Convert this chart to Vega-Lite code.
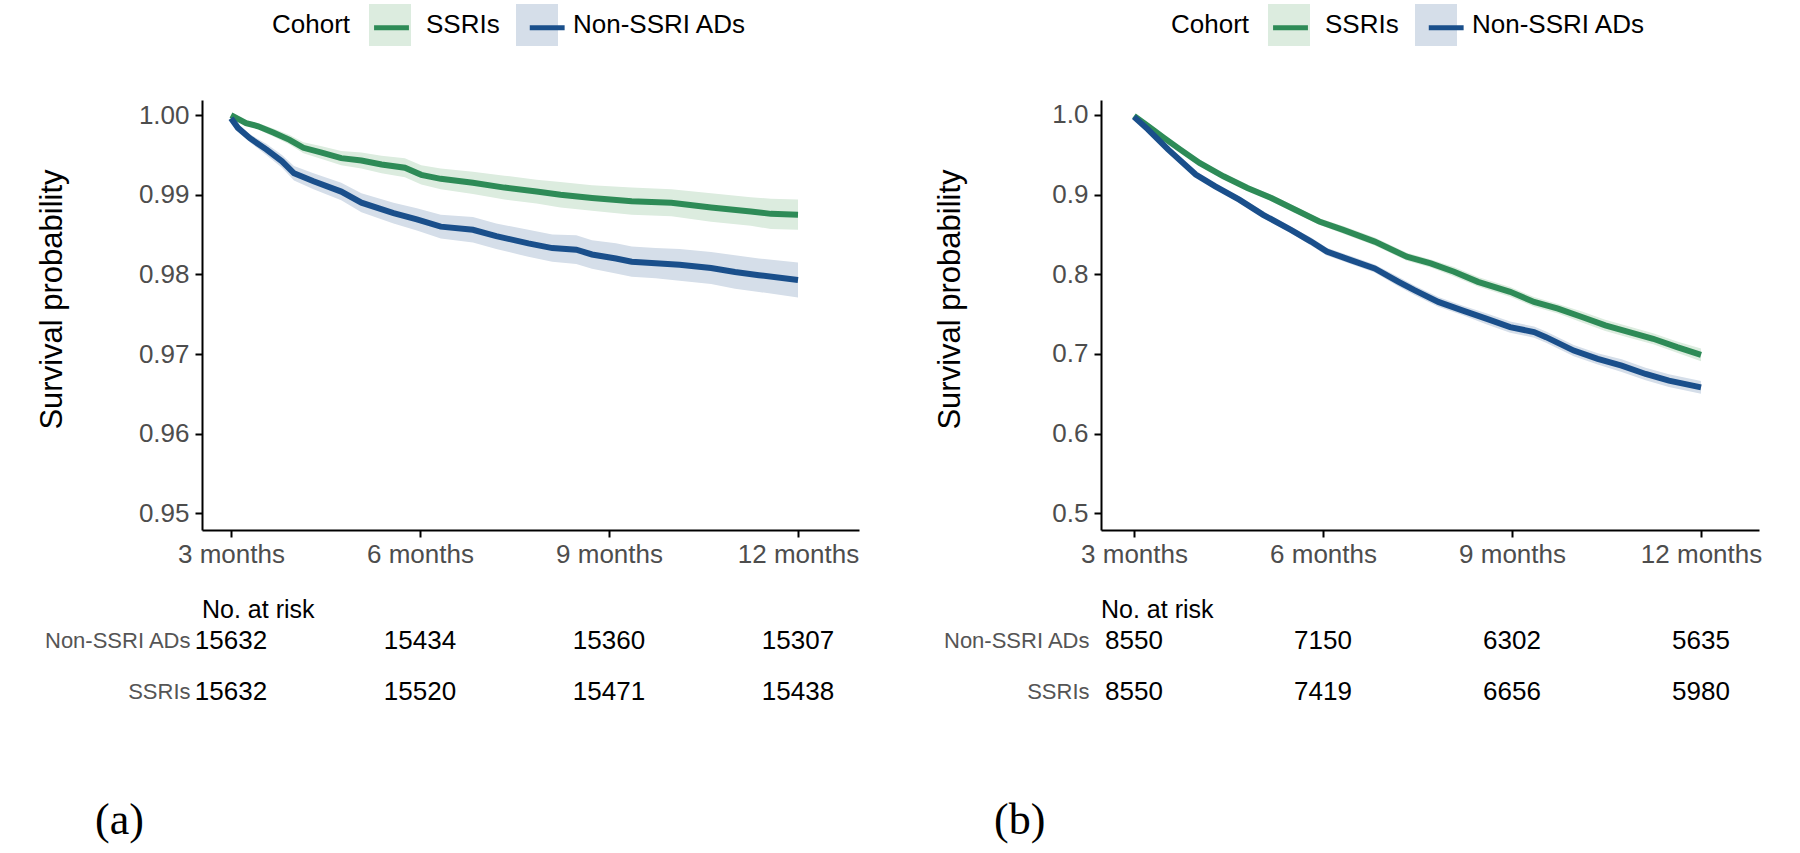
{
  "$schema": "https://vega.github.io/schema/vega-lite/v6.json",
  "background": "white",
  "padding": {"left": 36, "top": 4, "right": 10, "bottom": 2},
  "config": {
    "view": {"stroke": null},
    "font": "Liberation Sans",
    "axis": {"grid": false, "domainColor": "black", "domainWidth": 2, "tickColor": "black", "tickWidth": 2, "tickSize": 7, "labelFont": "Liberation Sans", "labelFontSize": 26, "labelColor": "#4d4d4d", "titleFont": "Liberation Sans", "titleFontWeight": "normal", "titleColor": "black", "titleFontSize": 31},
    "legend": {"orient": "none", "legendY": -96, "direction": "horizontal", "titleOrient": "left", "titleAnchor": "middle", "titleBaseline": "middle", "titleFont": "Liberation Sans", "titleFontSize": 26, "titleFontWeight": "normal", "titleColor": "black", "titlePadding": 18, "labelFont": "Liberation Sans", "labelFontSize": 26, "labelColor": "black", "labelOffset": 15, "labelLimit": 400, "symbolSize": 1764, "padding": 0}
  },
  "datasets": {
    "curves": [
      {"p":"a","c":"SSRIs","m":3.00,"s":1.0000,"lo":1.0000,"hi":1.0000},
      {"p":"a","c":"SSRIs","m":3.24,"s":0.9990,"lo":0.9987,"hi":0.9993},
      {"p":"a","c":"SSRIs","m":3.43,"s":0.9986,"lo":0.9982,"hi":0.9990},
      {"p":"a","c":"SSRIs","m":3.68,"s":0.9978,"lo":0.9973,"hi":0.9983},
      {"p":"a","c":"SSRIs","m":3.93,"s":0.9969,"lo":0.9963,"hi":0.9975},
      {"p":"a","c":"SSRIs","m":4.15,"s":0.9959,"lo":0.9952,"hi":0.9966},
      {"p":"a","c":"SSRIs","m":4.44,"s":0.9953,"lo":0.9945,"hi":0.9961},
      {"p":"a","c":"SSRIs","m":4.75,"s":0.9946,"lo":0.9937,"hi":0.9955},
      {"p":"a","c":"SSRIs","m":5.07,"s":0.9943,"lo":0.9933,"hi":0.9953},
      {"p":"a","c":"SSRIs","m":5.39,"s":0.9938,"lo":0.9927,"hi":0.9949},
      {"p":"a","c":"SSRIs","m":5.76,"s":0.9934,"lo":0.9922,"hi":0.9946},
      {"p":"a","c":"SSRIs","m":6.02,"s":0.9925,"lo":0.9913,"hi":0.9937},
      {"p":"a","c":"SSRIs","m":6.33,"s":0.9920,"lo":0.9907,"hi":0.9933},
      {"p":"a","c":"SSRIs","m":6.84,"s":0.9915,"lo":0.9901,"hi":0.9929},
      {"p":"a","c":"SSRIs","m":7.34,"s":0.9909,"lo":0.9894,"hi":0.9924},
      {"p":"a","c":"SSRIs","m":7.85,"s":0.9904,"lo":0.9889,"hi":0.9919},
      {"p":"a","c":"SSRIs","m":8.23,"s":0.9900,"lo":0.9884,"hi":0.9916},
      {"p":"a","c":"SSRIs","m":8.73,"s":0.9896,"lo":0.9880,"hi":0.9912},
      {"p":"a","c":"SSRIs","m":9.36,"s":0.9892,"lo":0.9875,"hi":0.9909},
      {"p":"a","c":"SSRIs","m":9.99,"s":0.9890,"lo":0.9873,"hi":0.9907},
      {"p":"a","c":"SSRIs","m":10.62,"s":0.9884,"lo":0.9866,"hi":0.9902},
      {"p":"a","c":"SSRIs","m":11.25,"s":0.9879,"lo":0.9861,"hi":0.9897},
      {"p":"a","c":"SSRIs","m":11.57,"s":0.9876,"lo":0.9857,"hi":0.9895},
      {"p":"a","c":"SSRIs","m":12.00,"s":0.9875,"lo":0.9856,"hi":0.9894},
      {"p":"a","c":"Non-SSRI ADs","m":3.00,"s":0.9996,"lo":0.9996,"hi":0.9996},
      {"p":"a","c":"Non-SSRI ADs","m":3.11,"s":0.9984,"lo":0.9981,"hi":0.9987},
      {"p":"a","c":"Non-SSRI ADs","m":3.30,"s":0.9971,"lo":0.9966,"hi":0.9976},
      {"p":"a","c":"Non-SSRI ADs","m":3.56,"s":0.9957,"lo":0.9950,"hi":0.9964},
      {"p":"a","c":"Non-SSRI ADs","m":3.81,"s":0.9942,"lo":0.9934,"hi":0.9950},
      {"p":"a","c":"Non-SSRI ADs","m":4.00,"s":0.9927,"lo":0.9918,"hi":0.9936},
      {"p":"a","c":"Non-SSRI ADs","m":4.31,"s":0.9917,"lo":0.9907,"hi":0.9927},
      {"p":"a","c":"Non-SSRI ADs","m":4.75,"s":0.9904,"lo":0.9893,"hi":0.9915},
      {"p":"a","c":"Non-SSRI ADs","m":5.07,"s":0.9890,"lo":0.9878,"hi":0.9902},
      {"p":"a","c":"Non-SSRI ADs","m":5.58,"s":0.9877,"lo":0.9864,"hi":0.9890},
      {"p":"a","c":"Non-SSRI ADs","m":5.95,"s":0.9869,"lo":0.9855,"hi":0.9883},
      {"p":"a","c":"Non-SSRI ADs","m":6.33,"s":0.9860,"lo":0.9845,"hi":0.9875},
      {"p":"a","c":"Non-SSRI ADs","m":6.84,"s":0.9856,"lo":0.9840,"hi":0.9872},
      {"p":"a","c":"Non-SSRI ADs","m":7.21,"s":0.9848,"lo":0.9832,"hi":0.9864},
      {"p":"a","c":"Non-SSRI ADs","m":7.72,"s":0.9839,"lo":0.9822,"hi":0.9856},
      {"p":"a","c":"Non-SSRI ADs","m":8.10,"s":0.9833,"lo":0.9816,"hi":0.9850},
      {"p":"a","c":"Non-SSRI ADs","m":8.48,"s":0.9831,"lo":0.9813,"hi":0.9849},
      {"p":"a","c":"Non-SSRI ADs","m":8.73,"s":0.9825,"lo":0.9807,"hi":0.9843},
      {"p":"a","c":"Non-SSRI ADs","m":9.11,"s":0.9820,"lo":0.9801,"hi":0.9839},
      {"p":"a","c":"Non-SSRI ADs","m":9.36,"s":0.9816,"lo":0.9797,"hi":0.9835},
      {"p":"a","c":"Non-SSRI ADs","m":9.74,"s":0.9814,"lo":0.9795,"hi":0.9833},
      {"p":"a","c":"Non-SSRI ADs","m":10.12,"s":0.9812,"lo":0.9792,"hi":0.9832},
      {"p":"a","c":"Non-SSRI ADs","m":10.62,"s":0.9808,"lo":0.9788,"hi":0.9828},
      {"p":"a","c":"Non-SSRI ADs","m":11.00,"s":0.9803,"lo":0.9782,"hi":0.9824},
      {"p":"a","c":"Non-SSRI ADs","m":11.38,"s":0.9799,"lo":0.9778,"hi":0.9820},
      {"p":"a","c":"Non-SSRI ADs","m":12.00,"s":0.9793,"lo":0.9771,"hi":0.9815},
      {"p":"b","c":"SSRIs","m":3.00,"s":0.9987,"lo":0.9987,"hi":0.9987},
      {"p":"b","c":"SSRIs","m":3.22,"s":0.9861,"lo":0.9851,"hi":0.9871},
      {"p":"b","c":"SSRIs","m":3.47,"s":0.9714,"lo":0.9694,"hi":0.9734},
      {"p":"b","c":"SSRIs","m":3.73,"s":0.9567,"lo":0.9547,"hi":0.9587},
      {"p":"b","c":"SSRIs","m":4.04,"s":0.9398,"lo":0.9368,"hi":0.9428},
      {"p":"b","c":"SSRIs","m":4.42,"s":0.9230,"lo":0.9200,"hi":0.9260},
      {"p":"b","c":"SSRIs","m":4.80,"s":0.9083,"lo":0.9053,"hi":0.9113},
      {"p":"b","c":"SSRIs","m":5.18,"s":0.8957,"lo":0.8917,"hi":0.8997},
      {"p":"b","c":"SSRIs","m":5.56,"s":0.8809,"lo":0.8769,"hi":0.8849},
      {"p":"b","c":"SSRIs","m":5.94,"s":0.8662,"lo":0.8622,"hi":0.8702},
      {"p":"b","c":"SSRIs","m":6.32,"s":0.8557,"lo":0.8507,"hi":0.8607},
      {"p":"b","c":"SSRIs","m":6.82,"s":0.8410,"lo":0.8360,"hi":0.8460},
      {"p":"b","c":"SSRIs","m":7.33,"s":0.8220,"lo":0.8170,"hi":0.8270},
      {"p":"b","c":"SSRIs","m":7.71,"s":0.8136,"lo":0.8086,"hi":0.8186},
      {"p":"b","c":"SSRIs","m":8.08,"s":0.8031,"lo":0.7971,"hi":0.8091},
      {"p":"b","c":"SSRIs","m":8.46,"s":0.7905,"lo":0.7845,"hi":0.7965},
      {"p":"b","c":"SSRIs","m":8.97,"s":0.7779,"lo":0.7719,"hi":0.7839},
      {"p":"b","c":"SSRIs","m":9.35,"s":0.7653,"lo":0.7593,"hi":0.7713},
      {"p":"b","c":"SSRIs","m":9.73,"s":0.7568,"lo":0.7508,"hi":0.7628},
      {"p":"b","c":"SSRIs","m":10.11,"s":0.7463,"lo":0.7393,"hi":0.7533},
      {"p":"b","c":"SSRIs","m":10.48,"s":0.7358,"lo":0.7288,"hi":0.7428},
      {"p":"b","c":"SSRIs","m":10.86,"s":0.7274,"lo":0.7204,"hi":0.7344},
      {"p":"b","c":"SSRIs","m":11.24,"s":0.7190,"lo":0.7120,"hi":0.7260},
      {"p":"b","c":"SSRIs","m":11.62,"s":0.7085,"lo":0.7015,"hi":0.7155},
      {"p":"b","c":"SSRIs","m":12.00,"s":0.6988,"lo":0.6908,"hi":0.7068},
      {"p":"b","c":"Non-SSRI ADs","m":3.00,"s":0.9975,"lo":0.9975,"hi":0.9975},
      {"p":"b","c":"Non-SSRI ADs","m":3.22,"s":0.9819,"lo":0.9809,"hi":0.9829},
      {"p":"b","c":"Non-SSRI ADs","m":3.54,"s":0.9567,"lo":0.9547,"hi":0.9587},
      {"p":"b","c":"Non-SSRI ADs","m":3.98,"s":0.9251,"lo":0.9221,"hi":0.9281},
      {"p":"b","c":"Non-SSRI ADs","m":4.29,"s":0.9104,"lo":0.9074,"hi":0.9134},
      {"p":"b","c":"Non-SSRI ADs","m":4.67,"s":0.8936,"lo":0.8896,"hi":0.8976},
      {"p":"b","c":"Non-SSRI ADs","m":5.05,"s":0.8746,"lo":0.8706,"hi":0.8786},
      {"p":"b","c":"Non-SSRI ADs","m":5.49,"s":0.8557,"lo":0.8517,"hi":0.8597},
      {"p":"b","c":"Non-SSRI ADs","m":5.81,"s":0.8410,"lo":0.8360,"hi":0.8460},
      {"p":"b","c":"Non-SSRI ADs","m":6.06,"s":0.8284,"lo":0.8234,"hi":0.8334},
      {"p":"b","c":"Non-SSRI ADs","m":6.44,"s":0.8178,"lo":0.8128,"hi":0.8228},
      {"p":"b","c":"Non-SSRI ADs","m":6.82,"s":0.8073,"lo":0.8023,"hi":0.8123},
      {"p":"b","c":"Non-SSRI ADs","m":7.20,"s":0.7905,"lo":0.7845,"hi":0.7965},
      {"p":"b","c":"Non-SSRI ADs","m":7.45,"s":0.7800,"lo":0.7740,"hi":0.7860},
      {"p":"b","c":"Non-SSRI ADs","m":7.83,"s":0.7653,"lo":0.7593,"hi":0.7713},
      {"p":"b","c":"Non-SSRI ADs","m":8.21,"s":0.7547,"lo":0.7487,"hi":0.7607},
      {"p":"b","c":"Non-SSRI ADs","m":8.59,"s":0.7442,"lo":0.7372,"hi":0.7512},
      {"p":"b","c":"Non-SSRI ADs","m":8.97,"s":0.7337,"lo":0.7267,"hi":0.7407},
      {"p":"b","c":"Non-SSRI ADs","m":9.35,"s":0.7274,"lo":0.7204,"hi":0.7344},
      {"p":"b","c":"Non-SSRI ADs","m":9.54,"s":0.7211,"lo":0.7141,"hi":0.7281},
      {"p":"b","c":"Non-SSRI ADs","m":9.98,"s":0.7042,"lo":0.6972,"hi":0.7112},
      {"p":"b","c":"Non-SSRI ADs","m":10.36,"s":0.6937,"lo":0.6867,"hi":0.7007},
      {"p":"b","c":"Non-SSRI ADs","m":10.74,"s":0.6853,"lo":0.6773,"hi":0.6933},
      {"p":"b","c":"Non-SSRI ADs","m":11.12,"s":0.6748,"lo":0.6668,"hi":0.6828},
      {"p":"b","c":"Non-SSRI ADs","m":11.49,"s":0.6664,"lo":0.6584,"hi":0.6744},
      {"p":"b","c":"Non-SSRI ADs","m":12.00,"s":0.6580,"lo":0.6500,"hi":0.6660}
    ],
    "risk": [
      {"p":"a","c":"Non-SSRI ADs","m":3,"n":15632},
      {"p":"a","c":"Non-SSRI ADs","m":6,"n":15434},
      {"p":"a","c":"Non-SSRI ADs","m":9,"n":15360},
      {"p":"a","c":"Non-SSRI ADs","m":12,"n":15307},
      {"p":"a","c":"SSRIs","m":3,"n":15632},
      {"p":"a","c":"SSRIs","m":6,"n":15520},
      {"p":"a","c":"SSRIs","m":9,"n":15471},
      {"p":"a","c":"SSRIs","m":12,"n":15438},
      {"p":"b","c":"Non-SSRI ADs","m":3,"n":8550},
      {"p":"b","c":"Non-SSRI ADs","m":6,"n":7150},
      {"p":"b","c":"Non-SSRI ADs","m":9,"n":6302},
      {"p":"b","c":"Non-SSRI ADs","m":12,"n":5635},
      {"p":"b","c":"SSRIs","m":3,"n":8550},
      {"p":"b","c":"SSRIs","m":6,"n":7419},
      {"p":"b","c":"SSRIs","m":9,"n":6656},
      {"p":"b","c":"SSRIs","m":12,"n":5980}
    ]
  },
  "hconcat": [
    {
      "vconcat": [
        {
          "width": 657, "height": 430,
          "data": {"name": "curves"},
          "transform": [{"filter": "datum.p == 'a'"}],
          "layer": [
            {
              "mark": {"type": "area", "opacity": 1},
              "encoding": {
                "x": {"field": "m", "type": "quantitative", "scale": {"domain": [2.54, 12.968], "nice": false, "zero": false},
                      "axis": {"values": [3, 6, 9, 12], "labelExpr": "datum.value + ' months'", "title": null, "labelPadding": 4, "labelFlush": false, "labelOverlap": false}},
                "y": {"field": "lo", "type": "quantitative", "scale": {"domain": [0.9479, 1.0019], "nice": false, "zero": false},
                      "axis": {"values": [0.95, 0.96, 0.97, 0.98, 0.99, 1.0], "format": ".2f", "title": "Survival probability", "labelPadding": 6, "titlePadding": 70, "titleY": 199}},
                "y2": {"field": "hi"},
                "fill": {"field": "c", "type": "nominal", "scale": {"domain": ["SSRIs", "Non-SSRI ADs"], "range": ["#dcecdf", "#d5dee9"]},
                         "legend": {"title": "Cohort", "legendX": 70, "columnPadding": 16, "symbolType": "square", "symbolStrokeWidth": 0, "symbolOpacity": 1}}
              }
            },
            {
              "mark": {"type": "line", "strokeWidth": 6},
              "encoding": {
                "x": {"field": "m", "type": "quantitative", "scale": {"domain": [2.54, 12.968], "nice": false, "zero": false}},
                "y": {"field": "s", "type": "quantitative", "scale": {"domain": [0.9479, 1.0019], "nice": false, "zero": false}, "title": "Survival probability"},
                "stroke": {"field": "c", "type": "nominal", "sort": ["SSRIs", "Non-SSRI ADs"], "scale": {"range": ["#2e8b57", "#1a4f8b"]},
                           "legend": {"title": null, "legendX": 166, "labelExpr": "''", "columnPadding": 89.7, "symbolType": "M-0.83,0L0.83,0", "symbolStrokeWidth": 5}}
              }
            }
          ]
        },
        {
          "width": 657, "height": 102,
          "data": {"name": "risk"},
          "transform": [{"filter": "datum.p == 'a'"}],
          "title": {"text": "No. at risk", "anchor": "start", "frame": "group", "fontSize": 25, "fontWeight": "normal", "color": "black", "offset": -8},
          "mark": {"type": "text", "fontSize": 26, "color": "black", "align": "center", "baseline": "middle"},
          "encoding": {
            "x": {"field": "m", "type": "quantitative", "scale": {"domain": [2.54, 12.968], "nice": false, "zero": false}, "axis": null},
            "y": {"field": "c", "type": "nominal", "scale": {"type": "point", "domain": ["Non-SSRI ADs", "SSRIs"], "padding": 0.5},
                  "axis": {"title": null, "domain": false, "ticks": false, "labelFontSize": 22, "labelColor": "#555555", "labelPadding": 12}},
            "text": {"field": "n", "type": "quantitative", "format": "d"}
          }
        }
      ],
      "spacing": 85,
      "bounds": "flush",
      "title": {"text": "(a)", "orient": "bottom", "anchor": "start", "frame": "group", "font": "Liberation Serif", "fontSize": 44, "fontWeight": "normal", "color": "black", "offset": 82, "dx": -107},
      "resolve": {"scale": {"fill": "independent", "stroke": "independent"}, "legend": {"fill": "independent", "stroke": "independent"}}
    },
    {
      "vconcat": [
        {
          "width": 658, "height": 430,
          "data": {"name": "curves"},
          "transform": [{"filter": "datum.p == 'b'"}],
          "layer": [
            {
              "mark": {"type": "area", "opacity": 1},
              "encoding": {
                "x": {"field": "m", "type": "quantitative", "scale": {"domain": [2.476, 12.92], "nice": false, "zero": false},
                      "axis": {"values": [3, 6, 9, 12], "labelExpr": "datum.value + ' months'", "title": null, "labelPadding": 4, "labelFlush": false, "labelOverlap": false}},
                "y": {"field": "lo", "type": "quantitative", "scale": {"domain": [0.479, 1.0187], "nice": false, "zero": false},
                      "axis": {"values": [0.5, 0.6, 0.7, 0.8, 0.9, 1.0], "format": ".1f", "title": "Survival probability", "labelPadding": 6, "titlePadding": 85, "titleY": 199}},
                "y2": {"field": "hi"},
                "fill": {"field": "c", "type": "nominal", "scale": {"domain": ["SSRIs", "Non-SSRI ADs"], "range": ["#dcecdf", "#d5dee9"]},
                         "legend": {"title": "Cohort", "legendX": 70, "columnPadding": 16, "symbolType": "square", "symbolStrokeWidth": 0, "symbolOpacity": 1}}
              }
            },
            {
              "mark": {"type": "line", "strokeWidth": 6},
              "encoding": {
                "x": {"field": "m", "type": "quantitative", "scale": {"domain": [2.476, 12.92], "nice": false, "zero": false}},
                "y": {"field": "s", "type": "quantitative", "scale": {"domain": [0.479, 1.0187], "nice": false, "zero": false}, "title": "Survival probability"},
                "stroke": {"field": "c", "type": "nominal", "sort": ["SSRIs", "Non-SSRI ADs"], "scale": {"range": ["#2e8b57", "#1a4f8b"]},
                           "legend": {"title": null, "legendX": 166, "labelExpr": "''", "columnPadding": 89.7, "symbolType": "M-0.83,0L0.83,0", "symbolStrokeWidth": 5}}
              }
            }
          ]
        },
        {
          "width": 658, "height": 102,
          "data": {"name": "risk"},
          "transform": [{"filter": "datum.p == 'b'"}],
          "title": {"text": "No. at risk", "anchor": "start", "frame": "group", "fontSize": 25, "fontWeight": "normal", "color": "black", "offset": -8},
          "mark": {"type": "text", "fontSize": 26, "color": "black", "align": "center", "baseline": "middle"},
          "encoding": {
            "x": {"field": "m", "type": "quantitative", "scale": {"domain": [2.476, 12.92], "nice": false, "zero": false}, "axis": null},
            "y": {"field": "c", "type": "nominal", "scale": {"type": "point", "domain": ["Non-SSRI ADs", "SSRIs"], "padding": 0.5},
                  "axis": {"title": null, "domain": false, "ticks": false, "labelFontSize": 22, "labelColor": "#555555", "labelPadding": 12}},
            "text": {"field": "n", "type": "quantitative", "format": "d"}
          }
        }
      ],
      "spacing": 85,
      "bounds": "flush",
      "title": {"text": "(b)", "orient": "bottom", "anchor": "start", "frame": "group", "font": "Liberation Serif", "fontSize": 44, "fontWeight": "normal", "color": "black", "offset": 82, "dx": -107},
      "resolve": {"scale": {"fill": "independent", "stroke": "independent"}, "legend": {"fill": "independent", "stroke": "independent"}}
    }
  ],
  "spacing": 75,
  "resolve": {"scale": {"fill": "independent", "stroke": "independent"}, "legend": {"fill": "independent", "stroke": "independent"}}
}
